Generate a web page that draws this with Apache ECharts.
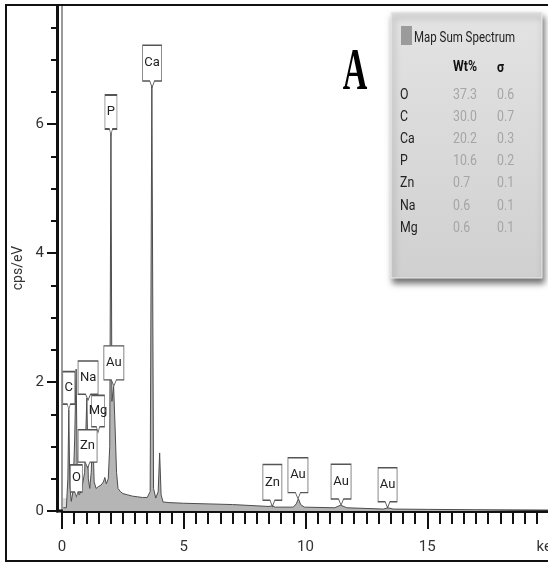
<!DOCTYPE html>
<html>
<head>
<meta charset="utf-8">
<style>
  html, body { margin: 0; padding: 0; background: #fff; }
  #chart { width: 548px; height: 563px; }
</style>
<script src="https://cdn.jsdelivr.net/npm/echarts@6/dist/echarts.min.js"></script>
</head>
<body>
<div id="chart"></div>
<script>
// EDS spectrum: energy (keV) and intensity (cps/eV)
const energyKeV = [
  0.05, 0.10, 0.18, 0.24, 0.28, 0.32, 0.38, 0.45, 0.52, 0.58, 0.63, 0.70, 0.78, 0.86, 0.93,
  1.02, 1.08, 1.14, 1.20, 1.26, 1.32, 1.40, 1.50, 1.60, 1.70, 1.76, 1.82, 1.90, 1.96, 2.01, 2.05,
  2.12, 2.18, 2.24, 2.30, 2.40, 2.50, 2.70, 2.90, 3.10, 3.30, 3.50, 3.62, 3.69, 3.76, 3.85, 3.95,
  4.01, 4.07, 4.15, 4.40, 5.00, 6.00, 7.00, 8.00, 8.50, 8.63, 8.75, 9.50, 9.62, 9.71, 9.80, 9.95,
  11.20, 11.44, 11.70, 13.20, 13.38, 13.60, 15.00, 17.00, 20.00
];
const countsPerEV = [
  0.05, 0.02, 0.05, 0.50, 1.57, 0.40, 0.15, 0.30, 1.10, 2.20, 0.45, 0.25, 0.30, 0.45, 0.60,
  1.75, 0.50, 0.35, 0.60, 1.25, 0.45, 0.35, 0.38, 0.40, 0.45, 0.52, 0.42, 0.50, 1.00, 5.86, 1.70,
  1.93, 1.30, 0.60, 0.35, 0.30, 0.27, 0.25, 0.23, 0.22, 0.21, 0.21, 0.30, 6.60, 0.35, 0.20, 0.30,
  0.90, 0.25, 0.14, 0.13, 0.12, 0.11, 0.10, 0.08, 0.07, 0.08, 0.06, 0.06, 0.11, 0.19, 0.10, 0.06,
  0.05, 0.09, 0.05, 0.03, 0.05, 0.03, 0.025, 0.02, 0.015
];

// Detector noise peak at zero energy (runs off scale)
const noiseEnergy = [0, 0];
const noiseCounts = [0, 9.5];

// Element line markers: name, energy (keV) and height the pointer touches
const peakNames  = ['O', 'C', 'Zn', 'Na', 'Mg', 'Au', 'P', 'Ca', 'Zn', 'Au', 'Au', 'Au'];
const peakEnergy = [0.59, 0.28, 1.05, 1.07, 1.48, 2.13, 2.01, 3.70, 8.64, 9.69, 11.46, 13.37];
const peakHeight = [0.22, 1.57, 0.67, 1.72, 1.22, 1.94, 5.83, 6.57, 0.07, 0.19, 0.09, 0.05];

// Quantification table
const tableElements = ['O', 'C', 'Ca', 'P', 'Zn', 'Na', 'Mg'];
const tableWtPct    = ['37.3', '30.0', '20.2', '10.6', '0.7', '0.6', '0.6'];
const tableSigma    = ['0.6', '0.7', '0.3', '0.2', '0.1', '0.1', '0.1'];

// Axis tick labels
const xTickLabels = { 0: '0', 5: '5', 10: '10', 15: '15', 20: 'keV' };
const yTickLabels = { 0: '0', 2: '2', 4: '4', 6: '6' };

// ---- styling ----
const sans = "Roboto, 'Liberation Sans', sans-serif";
const boxSize = [[12, 32], [12, 38], [19, 38], [20, 39], [13, 37], [20, 40], [12, 40], [19, 42], [19, 42], [20, 41], [20, 41], [19, 40]];
const calloutPath = 'path://M0,0 L20,0 L20,34 L12.5,34 L10,40 L7.5,34 L0,34 Z';

const spectrum = energyKeV.map((e, i) => [e, countsPerEV[i]]);
const noisePeak = noiseEnergy.map((e, i) => [e, noiseCounts[i]]);

const markers = peakNames.map((n, i) => ({
  name: n,
  coord: [peakEnergy[i], peakHeight[i]],
  symbol: calloutPath,
  symbolKeepAspect: false,
  symbolSize: boxSize[i],
  symbolOffset: [0, -boxSize[i][1] / 2],
  label: { offset: [0, -3] }
}));

function panelText(x, y, text, fill, weight, sx) {
  return {
    type: 'text', x: x, y: y, scaleX: sx || 0.88,
    style: { text: text, fill: fill, font: (weight || 'normal') + ' 14px ' + sans, textVerticalAlign: 'middle' }
  };
}

const chart = echarts.init(document.getElementById('chart'), null, { renderer: 'canvas' });

const option = {
  animation: false,
  backgroundColor: '#ffffff',
  grid: { left: 62, top: -5, width: 487, height: 516, containLabel: false, outerBoundsMode: 'none' },
  xAxis: {
    type: 'value', min: 0, max: 20, interval: 5,
    axisLine: { show: true, onZero: false, lineStyle: { color: '#111', width: 3 } },
    axisTick: { show: true, inside: false, length: 18, lineStyle: { color: '#111', width: 2 } },
    minorTick: { show: true, splitNumber: 10, length: 13, lineStyle: { color: '#111', width: 2 } },
    splitLine: { show: false },
    minorSplitLine: { show: false },
    axisLabel: {
      margin: 29, color: '#333', fontSize: 15, fontFamily: sans,
      showMinLabel: true, showMaxLabel: true, hideOverlap: false, alignMaxLabel: 'center',
      formatter: v => (xTickLabels[v] !== undefined ? xTickLabels[v] : '')
    }
  },
  yAxis: {
    type: 'value', min: 0, max: 8, interval: 2, offset: 5,
    axisLine: { show: true, onZero: false, lineStyle: { color: '#111', width: 3 } },
    axisTick: { show: true, inside: false, length: 10, lineStyle: { color: '#111', width: 2 } },
    minorTick: { show: true, splitNumber: 4, length: 6, lineStyle: { color: '#111', width: 2 } },
    splitLine: { show: false },
    minorSplitLine: { show: false },
    axisLabel: {
      margin: 13, color: '#333', fontSize: 15, fontFamily: sans,
      formatter: v => (yTickLabels[v] !== undefined ? yTickLabels[v] : '')
    }
  },
  series: [{
    type: 'line',
    data: noisePeak,
    showSymbol: false,
    clip: true,
    z: 1,
    lineStyle: { color: '#9a9a9a', width: 2 }
  }, {
    type: 'line',
    data: spectrum,
    showSymbol: false,
    clip: true,
    z: 2,
    lineStyle: { color: '#4d4d4d', width: 1 },
    areaStyle: { color: '#b5b5b5', opacity: 1 },
    markArea: {
      silent: true,
      itemStyle: { color: '#dedede' },
      data: [[{ coord: [0, 0] }, { coord: [0.75, 0.2] }]]
    },
    markPoint: {
      silent: true,
      itemStyle: { color: '#ffffff', borderColor: '#555', borderWidth: 1 },
      label: {
        show: true, position: 'inside', formatter: '{b}',
        color: '#222', fontSize: 13, fontFamily: sans
      },
      data: markers
    }
  }],
  graphic: [
    // spectrum name
    {
      type: 'text', x: 355, y: 74, z: 50, scaleY: 1.75,
      style: { text: 'A', fill: '#000', font: "bold 34px 'Liberation Serif', 'DejaVu Serif', serif",
               textAlign: 'center', textVerticalAlign: 'middle' }
    },
    // axis title
    {
      type: 'text', x: 18, y: 268, rotation: Math.PI / 2, z: 50,
      style: { text: 'cps/eV', fill: '#333', font: '14px ' + sans, textAlign: 'center', textVerticalAlign: 'middle' }
    },
    // stub of the x axis left of the energy origin
    {
      type: 'line', z: 40,
      shape: { x1: 56, y1: 511, x2: 63, y2: 511 },
      style: { stroke: '#111', lineWidth: 3 }
    },
    // quantification panel
    {
      type: 'group', x: 391, y: 12, z: 60,
      children: [
        {
          type: 'rect', shape: { x: 0, y: 0, width: 151, height: 266 },
          style: {
            fill: new echarts.graphic.LinearGradient(0, 0, 0, 1, [
              { offset: 0, color: '#e3e3e3' }, { offset: 1, color: '#d0d0d0' }
            ]),
            stroke: '#ededed', lineWidth: 1,
            shadowBlur: 6, shadowOffsetX: 2, shadowOffsetY: 5, shadowColor: 'rgba(0,0,0,0.55)'
          }
        },
        { type: 'rect', shape: { x: 10, y: 14, width: 11, height: 19 }, style: { fill: '#9b9b9b' } },
        panelText(23, 26, 'Map Sum Spectrum', '#222', 'normal', 0.82),
        panelText(62, 55, 'Wt%', '#111', 'bold'),
        panelText(106, 56, 'σ', '#111', 'bold')
      ].concat(
        tableElements.map((el, i) => panelText(9, 83 + i * 22.2, el, '#222')),
        tableWtPct.map((v, i) => panelText(62, 83 + i * 22.2, v, '#a5a5a5')),
        tableSigma.map((v, i) => panelText(106, 83 + i * 22.2, v, '#a5a5a5'))
      )
    },
    // white margin above the frame
    { type: 'rect', z: 90, shape: { x: 0, y: 0, width: 548, height: 4 }, style: { fill: '#fff' } },
    // outer frame
    {
      type: 'rect', z: 95,
      shape: { x: 6, y: 5, width: 600, height: 556 },
      style: { fill: 'none', stroke: '#111', lineWidth: 2 }
    }
  ]
};

chart.setOption(option);
</script>
</body>
</html>
